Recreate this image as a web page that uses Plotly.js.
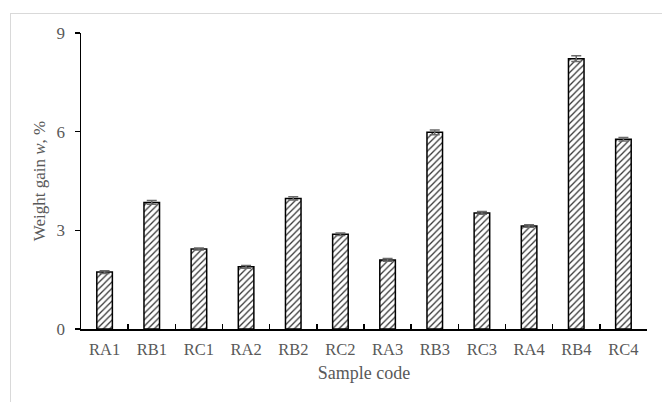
<!DOCTYPE html>
<html><head><meta charset="utf-8">
<script src="https://cdn.plot.ly/plotly-3.0.1.min.js"></script>
<style>body{margin:0;background:#fff;overflow:hidden}#frame{position:absolute;left:10px;top:13px;width:700px;height:450px;border-left:1px solid #d9d9d9;border-top:1px solid #d9d9d9;pointer-events:none}</style>
</head><body>
<div id="chart" style="width:662px;height:402px;"></div>
<div id="frame"></div>
<script>
const categories = ["RA1","RB1","RC1","RA2","RB2","RC2","RA3","RB3","RC3","RA4","RB4","RC4"];
const weightGain = [1.73, 3.85, 2.43, 1.89, 3.97, 2.88, 2.10, 5.98, 3.53, 3.13, 8.22, 5.77];
const errors = [0.04, 0.06, 0.03, 0.04, 0.05, 0.04, 0.04, 0.07, 0.04, 0.04, 0.09, 0.05];
const yTicks = [0, 3, 6, 9];

const fam = "Liberation Serif, Times New Roman, serif";
const grey = "#595959";
Plotly.newPlot("chart", [{
  type: "bar", x: categories, y: weightGain,
  width: 0.33,
  marker: {color: "#ffffff", line: {color: "#000000", width: 1.5},
    pattern: {shape: "/", fgcolor: "#333333", bgcolor: "#ffffff", size: 4.5, solidity: 0.28}},
  error_y: {type: "data", array: errors, visible: true, color: "#6a6a6a", thickness: 1.5, width: 5}
}], {
  width: 662, height: 402,
  margin: {l: 81, r: 15, t: 33, b: 73},
  paper_bgcolor: "rgba(0,0,0,0)", plot_bgcolor: "rgba(0,0,0,0)",
  font: {family: fam, color: grey, size: 16}, showlegend: false,
  xaxis: {type: "category", showline: true, linecolor: "#000", linewidth: 1.5,
    ticks: "inside", tickson: "boundaries", ticklen: 5, tickcolor: "#000", tickwidth: 1.5,
    tickfont: {size: 16.5, family: fam, color: grey}, ticklabelstandoff: 5,
    title: {text: "Sample code", font: {size: 18, family: fam, color: grey}, standoff: 8},
    showgrid: false, zeroline: false},
  yaxis: {range: [0, 9], tickvals: yTicks, ticktext: yTicks.map(String), showline: true, linecolor: "#000", linewidth: 1.5,
    ticks: "outside", ticklen: 5, tickcolor: "#000", tickwidth: 1.5,
    tickfont: {size: 17, family: fam, color: grey}, ticklabelstandoff: 6,
    title: {text: "Weight gain <i>w</i>, %", font: {size: 17, family: fam, color: grey}, standoff: 6},
    showgrid: false, zeroline: false}
}, {displayModeBar: false, staticPlot: true});
</script>
</body></html>
